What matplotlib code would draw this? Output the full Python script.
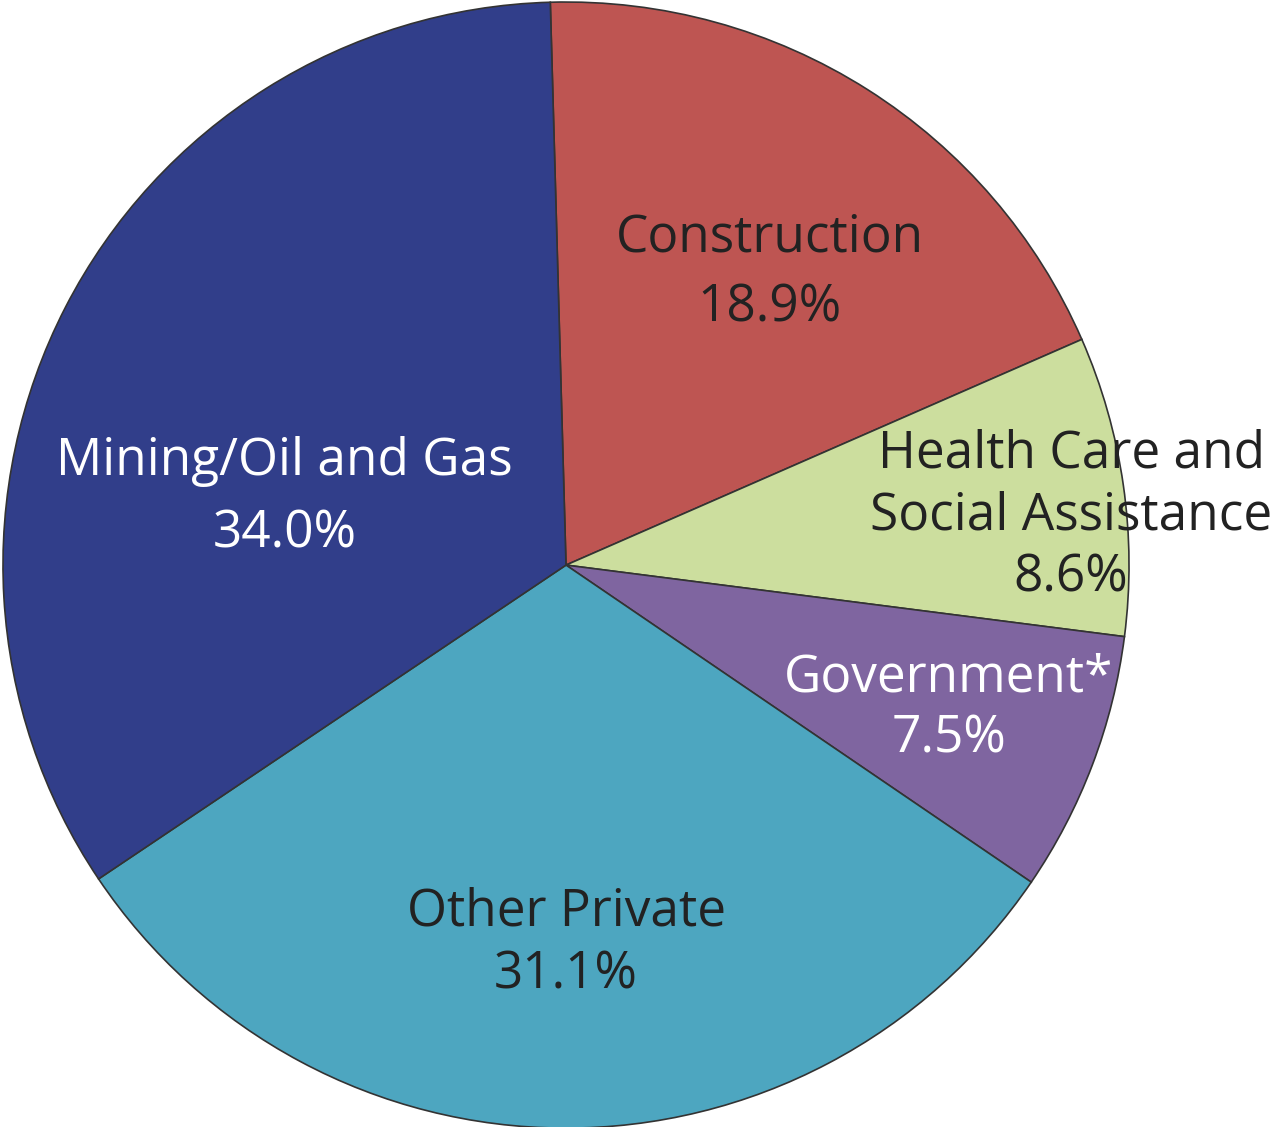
import matplotlib
matplotlib.use("Agg")
from matplotlib import pyplot

# data
sectors = ["Construction", "Health Care and\nSocial Assistance", "Government*", "Other Private", "Mining/Oil and Gas"]
shares = [18.9, 8.6, 7.5, 31.1, 34.0]
colors = ["#BE5552", "#CCDE9E", "#7F65A0", "#4DA6C0", "#313E8A"]
text_colors = ["#222222", "#222222", "#FFFFFF", "#222222", "#FFFFFF"]
# label centres, in pie radius units
label_pos = [(0.362, 0.519), (0.897, 0.087), (0.68, -0.255), (0.0, -0.672), (-0.50, 0.12)]
line_gap = [1.48, 1.28, 1.25, 1.33, 1.55]

pyplot.rcParams['font.family'] = ['Open Sans', 'DejaVu Sans']

fig = pyplot.figure(figsize=(12.74, 11.27), dpi=100)
ax = fig.add_axes([0, 0, 1, 1])

wedges, _ = ax.pie(shares, colors=colors, startangle=91.6, counterclock=False,
                   radius=1.0, center=(0, 0),
                   wedgeprops=dict(edgecolor="#333333", linewidth=1.2))

for name, val, (x, y), tc, ls in zip(sectors, shares, label_pos, text_colors, line_gap):
    ax.text(x, y, "%s\n%.1f%%" % (name, val), ha="center", va="center",
            fontsize=37, color=tc, linespacing=ls)

ax.set_xlim(-1.0053, 1.2575)
ax.set_ylim(-0.998, 1.0036)
ax.set_aspect("auto")
ax.axis("off")

fig.savefig("out.png", dpi=100)
